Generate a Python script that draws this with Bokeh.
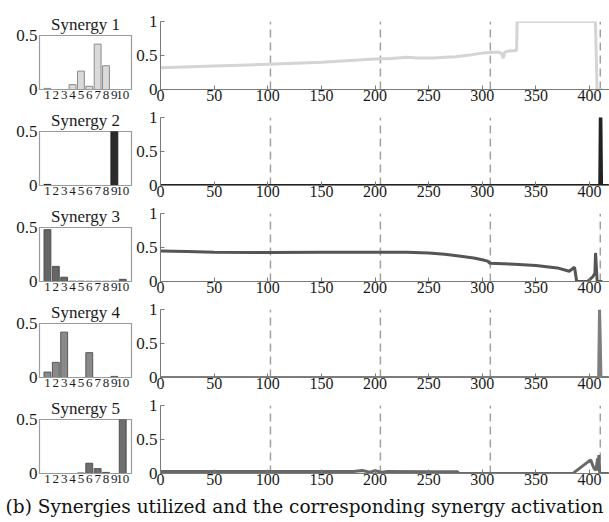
from bokeh.plotting import figure
from bokeh.layouts import column, row
from bokeh.models import FixedTicker, Range1d, Spacer, Div
from bokeh.embed import file_html
from bokeh.resources import INLINE

# ---------------- data ----------------
SYN_NAMES = ["Synergy 1", "Synergy 2", "Synergy 3", "Synergy 4", "Synergy 5"]
MUSCLES = [1, 2, 3, 4, 5, 6, 7, 8, 9, 10]

syn1_weights = [0.01, 0.0, 0.0, 0.045, 0.17, 0.03, 0.42, 0.22, 0.0, 0.0]
syn2_weights = [0.01, 0.0, 0.0, 0.0, 0.0, 0.0, 0.0, 0.0, 1.0, 0.0]
syn3_weights = [0.48, 0.14, 0.04, 0.003, 0.003, 0.002, 0.002, 0.002, 0.003, 0.02]
syn4_weights = [0.05, 0.14, 0.42, 0.0, 0.0, 0.23, 0.0, 0.0, 0.01, 0.0]
syn5_weights = [0.0, 0.0, 0.0, 0.0, 0.005, 0.095, 0.045, 0.01, 0.0, 0.52]

syn1_t = [0, 50, 100, 150, 200, 215, 230, 240, 255, 265, 275, 290, 300, 315, 318, 319.5, 321, 325, 332, 332.5, 405.5, 407, 412]
syn1_a = [0.32, 0.345, 0.37, 0.40, 0.45, 0.455, 0.475, 0.465, 0.465, 0.475, 0.48, 0.51, 0.535, 0.55, 0.53, 0.46, 0.55, 0.565, 0.575, 1.0, 1.0, 0.0, 0.0]

syn2_t = [0, 409.5, 410, 410.6, 411.2, 418]
syn2_a = [0.0, 0.0, 1.0, 1.0, 0.0, 0.0]

syn3_t = [0, 25, 50, 100, 150, 200, 230, 250, 265, 280, 292, 300, 305, 307, 330, 350, 370, 381, 386, 388, 398, 401, 403, 405, 405.6, 407.1, 412]
syn3_a = [0.45, 0.44, 0.43, 0.425, 0.43, 0.43, 0.43, 0.42, 0.40, 0.37, 0.345, 0.32, 0.30, 0.27, 0.255, 0.235, 0.20, 0.15, 0.21, 0.0, 0.0, 0.04, 0.07, 0.12, 0.42, 0.0, 0.0]

syn4_t = [0, 408.5, 409.3, 410, 410.6, 418]
syn4_a = [0.0, 0.0, 1.0, 0.55, 0.0, 0.0]

syn5_t = [0, 50, 100, 150, 180, 188, 195, 200, 206, 212, 250, 277, 278, 385, 386, 401, 404, 406, 407.5, 408, 408.7, 409.5, 418]
syn5_a = [0.03, 0.03, 0.03, 0.03, 0.03, 0.045, 0.02, 0.04, 0.02, 0.03, 0.025, 0.025, 0.0, 0.0, 0.02, 0.20, 0.08, 0.05, 0.22, 0.04, 0.27, 0.0, 0.0]

WEIGHTS = [syn1_weights, syn2_weights, syn3_weights, syn4_weights, syn5_weights]
TIMES = [syn1_t, syn2_t, syn3_t, syn4_t, syn5_t]
ACTS = [syn1_a, syn2_a, syn3_a, syn4_a, syn5_a]

BAR_Y_TICKS = [0, 0.5]
BAR_Y_LABELS = ["0", "0.5"]
LINE_X_TICKS = [0, 50, 100, 150, 200, 250, 300, 350, 400]
LINE_Y_TICKS = [0, 0.5, 1]
LINE_Y_LABELS = ["0", "0.5", "1"]
PHASE_BOUNDS = [102.5, 205, 307.5, 410]

CAPTION = "(b) Synergies utilized and the corresponding synergy activation"

# ---------------- style ----------------
BAR_FILL = ["#dadada", "#2a2a2a", "#666666", "#8a8a8a", "#6e6e6e"]
BAR_EDGE = ["#8a8a8a", "#222222", "#505050", "#555555", "#505050"]
LINE_COLORS = ["#d4d4d4", "#222222", "#555555", "#7e7e7e", "#686868"]
SERIF = "Liberation Serif"
AXIS_GRAY = "#7a7a7a"
TXT = "#1a1a1a"


def bar_fig(i):
    p = figure(width=133, height=96, output_backend="svg", toolbar_location=None,
               x_range=Range1d(0.05, 11.05), y_range=Range1d(0, 0.5),
               min_border_left=39, min_border_right=2, min_border_top=22, min_border_bottom=18)
    p.vbar(x=MUSCLES, top=WEIGHTS[i], width=0.82, fill_color=BAR_FILL[i],
           line_color=BAR_EDGE[i], line_width=1)
    p.title.text = SYN_NAMES[i]
    p.title.align = "center"
    p.title.text_font = SERIF
    p.title.text_font_size = "17px"
    p.title.text_font_style = "normal"
    p.title.text_color = TXT
    p.title.standoff = 3
    p.title.offset = -2
    p.xgrid.visible = False
    p.ygrid.visible = False
    p.outline_line_color = "#9a9a9a"
    p.outline_line_width = 1.2
    xa = p.xaxis[0]
    xa.ticker = FixedTicker(ticks=MUSCLES)
    xa.major_label_text_font = SERIF
    xa.major_label_text_font_size = "13px"
    xa.major_label_text_color = TXT
    xa.major_label_standoff = 1
    xa.major_tick_in = 0
    xa.major_tick_out = 0
    xa.minor_tick_line_color = None
    xa.axis_line_color = "#9a9a9a"
    ya = p.yaxis[0]
    ya.ticker = FixedTicker(ticks=BAR_Y_TICKS)
    ya.major_label_overrides = dict(zip(BAR_Y_TICKS, BAR_Y_LABELS))
    ya.major_label_text_font = SERIF
    ya.major_label_text_font_size = "17px"
    ya.major_label_text_color = TXT
    ya.major_label_standoff = 2
    ya.major_tick_in = 2
    ya.major_tick_out = 0
    ya.major_tick_line_color = "#9a9a9a"
    ya.minor_tick_line_color = None
    ya.axis_line_color = "#9a9a9a"
    return p


def line_fig(i):
    p = figure(width=476, height=96, output_backend="svg", toolbar_location=None,
               title_location=None,
               x_range=Range1d(0, 418.6), y_range=Range1d(0, 1.0),
               min_border_left=27, min_border_right=0, min_border_top=10, min_border_bottom=18)
    p.xgrid.visible = False
    p.ygrid.visible = False
    p.outline_line_color = None
    p.segment(x0=PHASE_BOUNDS, x1=PHASE_BOUNDS, y0=[0] * len(PHASE_BOUNDS),
              y1=[1] * len(PHASE_BOUNDS), line_color="#a0a0a0", line_width=1.5,
              line_dash="8 5")
    p.line(TIMES[i], ACTS[i], line_color=LINE_COLORS[i], line_width=3)
    xa = p.xaxis[0]
    xa.ticker = FixedTicker(ticks=LINE_X_TICKS)
    xa.major_label_text_font = SERIF
    xa.major_label_text_font_size = "16px"
    xa.major_label_text_color = TXT
    xa.major_label_standoff = 0
    xa.major_tick_in = 4
    xa.major_tick_out = 0
    xa.major_tick_line_color = AXIS_GRAY
    xa.minor_tick_line_color = None
    xa.axis_line_color = AXIS_GRAY
    ya = p.yaxis[0]
    ya.ticker = FixedTicker(ticks=LINE_Y_TICKS)
    ya.major_label_overrides = dict(zip(LINE_Y_TICKS, LINE_Y_LABELS))
    ya.major_label_text_font = SERIF
    ya.major_label_text_font_size = "17px"
    ya.major_label_text_color = TXT
    ya.major_label_standoff = 3
    ya.major_tick_in = 4
    ya.major_tick_out = 0
    ya.major_tick_line_color = AXIS_GRAY
    ya.minor_tick_line_color = None
    ya.axis_line_color = AXIS_GRAY
    return p


bar_col = column(*[bar_fig(i) for i in range(len(SYN_NAMES))], spacing=0)
line_col = column(*[line_fig(i) for i in range(len(SYN_NAMES))], spacing=0)
panels = row(bar_col, line_col, spacing=0)
caption = Div(text=('<div style="font-family:\'DejaVu Serif\';'
                    'font-size:18.5px;line-height:22px;color:#111;'
                    'white-space:nowrap;text-align:center;width:609px;padding-top:5px;margin:0;">'
                    + CAPTION + '</div>'), width=609, height=31,
              styles={"margin": "0", "padding": "0"})
layout = column(Spacer(width=609, height=11), panels, caption, spacing=0)

open("out.html", "w").write(file_html(layout, INLINE))
